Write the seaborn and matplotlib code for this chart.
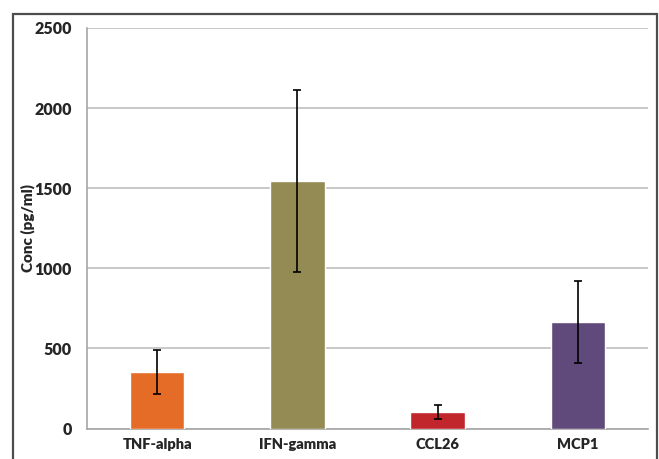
import matplotlib
matplotlib.use("Agg")
import matplotlib.pyplot as plt
import seaborn as sns
import pandas as pd

categories = ["TNF-alpha", "IFN-gamma", "CCL26", "MCP1"]
values = [353, 1547, 101, 664]
errors = [140, 569, 44, 256]
colors = ["#E46C27", "#948A54", "#C0262C", "#604A7B"]
yticks = [0, 500, 1000, 1500, 2000, 2500]

sns.set_style("white")
plt.rcParams["font.family"] = ["Lato", "DejaVu Sans"]

fig = plt.figure(figsize=(6.59, 4.59), dpi=100)

# background axes in pixel units for the outer frame
bg = fig.add_axes([0, 0, 1, 1], zorder=-5)
bg.set_xlim(0, 659)
bg.set_ylim(459, 0)
bg.axis("off")
bg.plot([13, 13, 657, 657], [470, 13.5, 13.5, 470], color="#4D4D4D",
        linewidth=1.6, solid_joinstyle="miter", clip_on=False)

ax = fig.add_axes([87/659, 1 - 428.5/459, (648 - 87)/659, (428.5 - 28)/459])

df = pd.DataFrame({"cat": categories, "val": values})
sns.barplot(data=df, x="cat", y="val", hue="cat", palette=colors, width=0.39,
            saturation=1, legend=False, ax=ax, zorder=3)
ax.errorbar(range(len(categories)), values, yerr=errors, fmt="none",
            ecolor="black", elinewidth=1.2, capsize=3, capthick=1.2, zorder=4)

ax.set_ylim(0, 2500)
ax.set_xlim(-0.5, 3.5)
ax.set_yticks(yticks)
ax.set_yticklabels([str(t) for t in yticks], fontsize=11.5, fontweight="heavy")
ax.set_xticks(range(len(categories)))
ax.set_xticklabels(categories, fontsize=10.5, fontweight="heavy")
ax.set_xticks([-0.5, 0.5, 1.5, 2.5, 3.5], minor=True)
ax.tick_params(axis="x", which="major", length=0, pad=7)
ax.tick_params(axis="x", which="minor", length=5, color="#A6A6A6", width=1, direction="out")
ax.tick_params(axis="y", length=5, color="#A6A6A6", width=1, direction="out", pad=6)
ax.yaxis.grid(True, color="#BFBFBF", linewidth=1.2, zorder=0)
ax.set_axisbelow(True)
ax.patch.set_alpha(0)
for s in ["top", "right"]:
    ax.spines[s].set_visible(False)
for s in ["left", "bottom"]:
    ax.spines[s].set_color("#A6A6A6")
    ax.spines[s].set_linewidth(1.2)
ax.set_xlabel("")
ax.set_ylabel("Conc (pg/ml)", fontsize=11, fontweight="heavy")
ax.yaxis.set_label_coords(-52/561, 0.5)

fig.savefig("out.png", dpi=100)
